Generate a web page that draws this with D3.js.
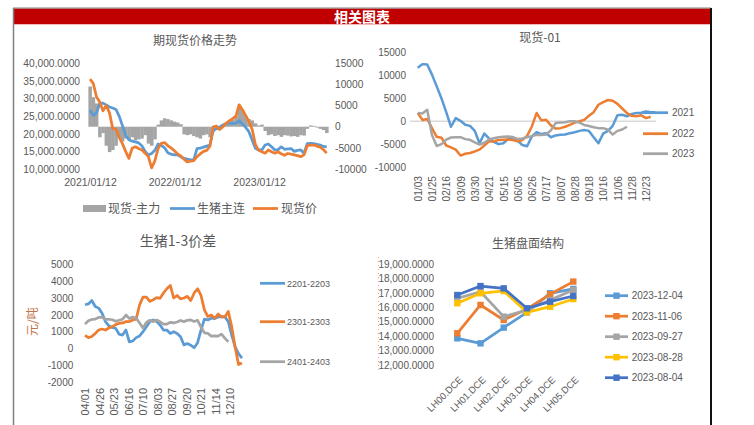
<!DOCTYPE html>
<html>
<head>
<meta charset="utf-8">
<script src="https://cdnjs.cloudflare.com/ajax/libs/d3/7.8.5/d3.min.js"></script>
<style>
body { margin: 0; background: #fff; }
svg text { font-family: "Noto Sans CJK SC", "Noto Sans", sans-serif; fill: #595959; }
svg text.num { font-family: "Liberation Sans", Arial, sans-serif; }
</style>
</head>
<body>
<svg id="page" width="754" height="425"></svg>
<script>
// ---- 期现货价格走势 (every 14 days from 2021/01/12)
var futuresMain = [26700,25200,25900,28600,28700,28200,27600,27300,26900,25000,
	22300,19500,18300,17900,17700,17400,16600,15000,14000,14400,
	15300,17100,16700,16000,14600,14200,14000,14000,13500,13000,
	12800,12600,12600,15800,15900,16200,16500,16800,21000,21500,
	21900,22500,22900,23000,22900,23000,23700,22800,21800,20600,
	18200,15900,15400,15400,16800,17100,16300,15400,15500,16300,
	15600,15700,15800,15000,15300,15400,14500,17200,17300,17200,
	17000,16800,16400,16300];
var spotPrice = [35500,34300,30500,29000,26500,28000,26000,21500,21300,19000,
	17200,15000,13000,15900,16300,15800,15400,14500,13500,10300,
	12300,15800,17300,17500,16600,16000,15200,14300,13700,12800,
	12000,12200,12400,13500,14300,15000,15300,16500,22000,22200,
	21200,22000,23000,23700,24300,25000,28200,26800,25200,23500,
	21300,17000,15300,14900,14500,15400,14900,14500,14900,14300,
	13900,14400,14200,14000,13800,13500,14000,16600,16800,16800,
	16500,16200,15500,14500];
var basis = [9500,7000,5500,-2500,-1500,-4500,-6000,-5500,-4500,-2500,
	-3500,-2800,-3000,-2500,-3200,-3000,-2800,-2000,-4000,-4500,
	-3000,500,1500,2000,1800,1500,1200,1000,600,-1800,
	-2000,-1800,-2200,-2500,-2800,-2000,-1800,-2500,-1200,-800,
	-500,300,800,1200,1600,2500,5200,4000,2500,1800,
	1500,800,300,500,-1000,-2000,-1800,-2200,-2000,-2400,
	-2000,-2100,-2300,-2200,-2400,-2000,-2100,-500,300,200,
	-200,-500,-800,-1500];
var chart1Ticks = ["2021-01-12", "2022-01-12", "2023-01-12"];

// ---- 现货-01 (every 5 trading days)
var basis2021 = [11700,12500,12400,10200,7640,5000,2000,-1200,700,100,
	-770,-1000,-2100,-4800,-2700,-3750,-4500,-5000,-4800,-3900,
	-3500,-4200,-5200,-5450,-3330,-2400,-2800,-2600,-3500,-3100,
	-2960,-2900,-2600,-2400,-2100,-1900,-2100,-3500,-4790,-2700,
	-2100,-1000,1300,1430,1100,1600,1790,1850,2150,2000,2000];
var basis2022 = [1800,300,500,-1500,-3400,-3600,-5300,-5700,-6200,-7500,
	-7100,-6950,-6600,-6200,-5300,-4400,-4400,-4100,-4060,-4000,
	-4100,-4400,-4100,-3200,-1130,1800,200,330,-900,-1600,
	-1500,-1200,-800,-300,0,300,1200,2000,3620,4200,
	4650,4500,3800,2800,1800,1200,1100,1300,700,1000];
var basis2023 = [1800,1700,2500,-3000,-5400,-5000,-4000,-3550,-3470,-3470,
	-3900,-4060,-4600,-5100,-4700,-4000,-3700,-3500,-3400,-3330,
	-3450,-3850,-3750,-3500,-3250,-2960,-3000,-2900,-2000,-400,
	-260,-200,0,0,-300,-800,-1050,-1300,-1500,-1500,
	-1850,-2900,-2100,-1800,-1200];
var chart2Labels = ["01/03","01/25","02/16","03/09","03/30","04/21","05/15","06/05","06/26",
	"07/17","08/07","08/28","09/18","10/16","11/06","11/28","12/23"];
var chart2Names = ["2021", "2022", "2023"];

// ---- 生猪1-3价差 (every 4 trading days)
var spread2201 = [2600,2650,2850,2500,2400,2100,1600,1350,1250,1200,
	850,800,1100,400,450,650,750,1000,1300,1600,
	1700,1600,1400,1100,1100,900,1000,900,700,220,
	300,200,50,350,1100,1750,1700,1800,1780,1880,
	1890,1880,1600,800,100,-300,-570];
var spread2301 = [790,650,720,900,1100,1160,1100,1220,1300,1420,
	1500,1520,1600,1600,1700,1750,2600,3050,3050,2800,
	2900,3020,2980,3300,3550,3750,3000,3150,2950,3000,
	3100,2850,3300,3550,3150,2300,1900,1990,1800,2050,
	1880,1880,2200,1300,100,-950,-850];
var spread2401 = [1450,1650,1730,1750,1850,1860,1740,1740,1710,1620,
	1680,1740,1990,1780,1870,1810,1520,1220,1550,1680,
	1600,1690,1590,1450,1450,1560,1520,1580,1670,1600,
	1680,1700,1610,1680,1280,930,900,740,760,740,
	860,620,400];
var chart3Labels = ["04/01","04/26","05/23","06/16","07/10","08/03","08/27","09/20","10/21","11/14","12/10"];
var chart3Names = ["2201-2203", "2301-2303", "2401-2403"];

// ---- 生猪盘面结构
var contracts = ["LH00.DCE","LH01.DCE","LH02.DCE","LH03.DCE","LH04.DCE","LH05.DCE"];
var curveDates = ["2023-12-04","2023-11-06","2023-09-27","2023-08-28","2023-08-04"];
var curve1204 = [13850,13500,14590,15650,16970,17270];
var curve1106 = [14200,16160,15120,15880,16900,17780];
var curve0927 = [16620,17080,15350,15810,16500,17200];
var curve0828 = [16280,16970,17130,15650,16040,16570];
var curve0804 = [16850,17470,17310,15930,16390,16780];

var BLUE = "#5B9BD5", ORANGE = "#ED7D31", GREY = "#A5A5A5", YELLOW = "#FFC000", DBLUE = "#4472C4";

var svg = d3.select("#page");

// frame + header
svg.append("rect").attr("x", 14).attr("y", 8.5).attr("width", 696).attr("height", 15.5).attr("fill", "#C00000");
svg.append("line").attr("x1", 13).attr("x2", 711).attr("y1", 8).attr("y2", 8).attr("stroke", "#7f7f7f").attr("stroke-width", 1);
svg.append("line").attr("x1", 14).attr("x2", 710).attr("y1", 24.5).attr("y2", 24.5).attr("stroke", "#f4b8b8").attr("stroke-width", 1);
svg.append("line").attr("x1", 13.5).attr("x2", 13.5).attr("y1", 8).attr("y2", 425).attr("stroke", "#808080").attr("stroke-width", 1.5);
svg.append("line").attr("x1", 711).attr("x2", 711).attr("y1", 8).attr("y2", 425).attr("stroke", "#111").attr("stroke-width", 2);
svg.append("text").attr("x", 362).attr("y", 16.5).attr("dy", "0.36em").attr("text-anchor", "middle")
	.style("fill", "#fff").style("font-weight", "bold").style("font-size", "14px").text("相关图表");
svg.append("line").attr("x1", 378.5).attr("x2", 378.5).attr("y1", 257).attr("y2", 372)
	.attr("stroke", "#E9A67C").attr("stroke-width", 1).attr("stroke-dasharray", "1,3");

var title = function(x, y, size, txt) {
	svg.append("text").attr("x", x).attr("y", y).attr("dy", "0.36em").attr("text-anchor", "middle")
		.style("font-size", size + "px").text(txt);
};

var cleanAxis = function(g, size) {
	g.select(".domain").remove();
	g.selectAll("text").attr("class", "num").attr("fill", null)
		.style("font-size", (size || 10) + "px").style("fill", "#595959");
};

var addLine = function(data, xf, yf, color, width) {
	var line = d3.line().x(function(d, i) { return xf(i); }).y(function(d) { return yf(d); });
	svg.append("path").datum(data).attr("d", line).attr("fill", "none")
		.attr("stroke", color).attr("stroke-width", width).attr("stroke-linejoin", "round");
};

// ===== chart 1
var parse = d3.timeParse("%Y-%m-%d");
var start1 = parse("2021-01-12");
var dates1 = spotPrice.map(function(d, i) { return d3.timeDay.offset(start1, 14 * i); });
var x1 = d3.scaleTime().domain([start1, dates1[dates1.length - 1]]).range([90, 326.7]);
var yL = d3.scaleLinear().domain([10000, 40000]).range([169, 63.3]);
var yR = d3.scaleLinear().domain([-10000, 15000]).range([169, 63.3]);

title(195, 41, 12, "期现货价格走势");

svg.append("g").attr("transform", "translate(80,0)")
	.call(d3.axisLeft(yL).tickValues(d3.range(10000, 40001, 5000)).tickSize(0).tickPadding(0).tickFormat(d3.format(",.4f")))
	.call(cleanAxis, 10.2);
svg.append("g").attr("transform", "translate(335,0)")
	.call(d3.axisRight(yR).tickValues(d3.range(-10000, 15001, 5000)).tickSize(0).tickPadding(0).tickFormat(String))
	.call(cleanAxis, 10.2);
svg.append("g").attr("transform", "translate(0,179)")
	.call(d3.axisBottom(x1).tickValues(chart1Ticks.map(parse)).tickSize(0).tickPadding(0).tickFormat(d3.timeFormat("%Y/%m/%d")))
	.call(cleanAxis, 10.5);

var step1 = x1(dates1[1]) - x1(dates1[0]);
svg.append("g").selectAll("rect").data(basis).enter().append("rect")
	.attr("x", function(d, i) { return x1(dates1[i]) - step1 / 2; })
	.attr("width", step1 + 0.3)
	.attr("y", function(d) { return Math.min(yR(d), yR(0)); })
	.attr("height", function(d) { return Math.abs(yR(d) - yR(0)); })
	.attr("fill", GREY);
addLine(futuresMain, function(i) { return x1(dates1[i]); }, yL, BLUE, 2.75);
addLine(spotPrice, function(i) { return x1(dates1[i]); }, yL, ORANGE, 2.75);

svg.append("rect").attr("x", 83).attr("y", 205).attr("width", 23).attr("height", 7).attr("fill", GREY);
svg.append("text").attr("x", 108).attr("y", 208.5).attr("dy", "0.36em").style("font-size", "12px").text("现货-主力");
svg.append("line").attr("x1", 170).attr("x2", 195).attr("y1", 208.5).attr("y2", 208.5).attr("stroke", BLUE).attr("stroke-width", 2.75);
svg.append("text").attr("x", 197).attr("y", 208.5).attr("dy", "0.36em").style("font-size", "12px").text("生猪主连");
svg.append("line").attr("x1", 253).attr("x2", 278).attr("y1", 208.5).attr("y2", 208.5).attr("stroke", ORANGE).attr("stroke-width", 2.75);
svg.append("text").attr("x", 281).attr("y", 208.5).attr("dy", "0.36em").style("font-size", "12px").text("现货价");

// ===== chart 2
var x2 = d3.scaleLinear().domain([0, 240]).range([417.7, 646]);
var y2 = d3.scaleLinear().domain([-10000, 15000]).range([167, 52.7]);

title(540, 37.5, 12, "现货-01");
svg.append("g").attr("transform", "translate(406,0)")
	.call(d3.axisLeft(y2).tickValues(d3.range(-10000, 15001, 5000)).tickSize(0).tickPadding(0).tickFormat(String))
	.call(cleanAxis, 10);
svg.append("g").attr("transform", "translate(0,176)")
	.call(d3.axisBottom(x2).tickValues(d3.range(0, 241, 15)).tickSize(0).tickPadding(0)
		.tickFormat(function(d, i) { return chart2Labels[i]; }))
	.call(cleanAxis, 10.2)
	.selectAll("text").attr("transform", "rotate(-90)").attr("text-anchor", "end")
	.attr("x", 0).attr("y", 0).attr("dy", "0.36em");
svg.append("line").attr("x1", 410).attr("x2", 656).attr("y1", y2(0)).attr("y2", y2(0)).attr("stroke", "#D9D9D9").attr("stroke-width", 1.5);

var xi5 = function(i) { return x2(i * 5); };
addLine(basis2021, xi5, y2, BLUE, 2.5);
addLine(basis2022, xi5, y2, ORANGE, 2.5);
addLine(basis2023, xi5, y2, GREY, 2.5);

var legend2Y = [112.7, 133.7, 153.7];
[BLUE, ORANGE, GREY].forEach(function(c, i) {
	svg.append("line").attr("x1", 643).attr("x2", 668).attr("y1", legend2Y[i]).attr("y2", legend2Y[i]).attr("stroke", c).attr("stroke-width", 2.75);
	svg.append("text").attr("class", "num").attr("x", 672).attr("y", legend2Y[i]).attr("dy", "0.36em").style("font-size", "10px").text(chart2Names[i]);
});

// ===== chart 3
var x3 = d3.scaleLinear().domain([0, 170]).range([85, 230]);
var y3 = d3.scaleLinear().domain([-2000, 5000]).range([382.3, 264.3]);

title(178, 241, 14, "生猪1-3价差");
svg.append("text").attr("transform", "translate(33,321.7) rotate(-90)").attr("dy", "0.36em")
	.attr("text-anchor", "middle").style("font-size", "12px").style("fill", "#C0764A").text("元/吨");
svg.append("g").attr("transform", "translate(73.3,0)")
	.call(d3.axisLeft(y3).tickValues(d3.range(-2000, 5001, 1000)).tickSize(0).tickPadding(0).tickFormat(String))
	.call(cleanAxis, 10);
svg.append("g").attr("transform", "translate(0,388)")
	.call(d3.axisBottom(x3).tickValues(d3.range(0, 171, 17)).tickSize(0).tickPadding(0)
		.tickFormat(function(d, i) { return chart3Labels[i]; }))
	.call(cleanAxis, 11)
	.selectAll("text").attr("transform", "rotate(-90)").attr("text-anchor", "end")
	.attr("x", 0).attr("y", 0).attr("dy", "0.36em");

var xi4 = function(i) { return x3(i * 4); };
addLine(spread2201, xi4, y3, BLUE, 2.75);
addLine(spread2301, xi4, y3, ORANGE, 2.75);
addLine(spread2401, xi4, y3, GREY, 2.75);

var legend3Y = [283.3, 321.7, 361.7];
[BLUE, ORANGE, GREY].forEach(function(c, i) {
	svg.append("line").attr("x1", 260).attr("x2", 285).attr("y1", legend3Y[i]).attr("y2", legend3Y[i]).attr("stroke", c).attr("stroke-width", 2.75);
	svg.append("text").attr("class", "num").attr("x", 287).attr("y", legend3Y[i]).attr("dy", "0.36em").style("font-size", "9px").text(chart3Names[i]);
});

// ===== chart 4
var x4 = d3.scalePoint().domain(contracts).range([457.3, 573.3]);
var y4 = d3.scaleLinear().domain([12000, 19000]).range([365, 264]);

title(528, 244, 12, "生猪盘面结构");
svg.append("g").attr("transform", "translate(434,0)")
	.call(d3.axisLeft(y4).tickValues(d3.range(12000, 19001, 1000)).tickSize(0).tickPadding(0).tickFormat(d3.format(",.4f")))
	.call(cleanAxis, 10);
svg.append("g").attr("transform", "translate(0,378)")
	.call(d3.axisBottom(x4).tickSize(0).tickPadding(0))
	.call(cleanAxis, 9.5)
	.selectAll("text").attr("transform", "translate(3,0) rotate(-45)").attr("text-anchor", "end")
	.attr("x", 0).attr("y", 0).attr("dy", "0.36em");

var curves = [curve1204, curve1106, curve0927, curve0828, curve0804];
var curveColors = [BLUE, ORANGE, GREY, YELLOW, DBLUE];
curves.forEach(function(vals, k) {
	addLine(vals, function(i) { return x4(contracts[i]); }, y4, curveColors[k], 2.75);
	svg.append("g").selectAll("rect").data(vals).enter().append("rect")
		.attr("x", function(d, i) { return x4(contracts[i]) - 3.2; })
		.attr("y", function(d) { return y4(d) - 3.2; })
		.attr("width", 6.4).attr("height", 6.4).attr("fill", curveColors[k]);
});

var legend4Y = [295.7, 316.2, 336.7, 357.2, 377.7];
curveColors.forEach(function(c, i) {
	svg.append("line").attr("x1", 605).attr("x2", 628).attr("y1", legend4Y[i]).attr("y2", legend4Y[i]).attr("stroke", c).attr("stroke-width", 2.75);
	svg.append("rect").attr("x", 613.3).attr("y", legend4Y[i] - 3.2).attr("width", 6.4).attr("height", 6.4).attr("fill", c);
	svg.append("text").attr("class", "num").attr("x", 631.7).attr("y", legend4Y[i]).attr("dy", "0.36em").style("font-size", "10px").text(curveDates[i]);
});
</script>
</body>
</html>
